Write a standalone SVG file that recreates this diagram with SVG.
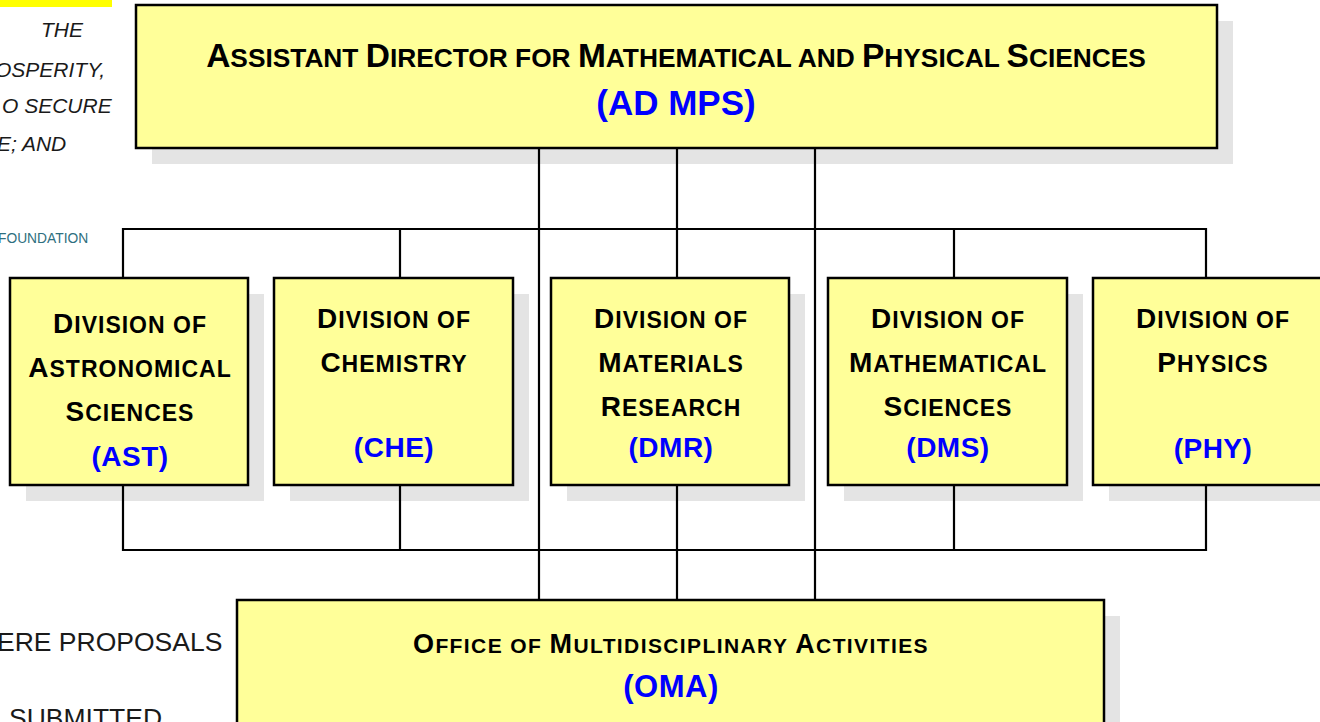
<svg xmlns="http://www.w3.org/2000/svg" width="1320" height="722" viewBox="0 0 1320 722">
<style>
.shadow{fill:#e4e4e4;stroke:none}
.box{fill:#ffff99;stroke:#000;stroke-width:2.5}
.ln{stroke:#000;stroke-width:2.2;fill:none}
.t{font-family:"Liberation Sans",Arial,sans-serif;font-weight:bold;fill:#000;text-anchor:middle}
.d{font-size:28px;letter-spacing:1px}
.d .s{font-size:23px}
.code{font-family:"Liberation Sans",Arial,sans-serif;font-weight:bold;fill:#0000ff;text-anchor:middle;font-size:28px;letter-spacing:0.5px}
.bg{font-family:"Liberation Sans",Arial,sans-serif;fill:#1a1a1a}
</style>
<rect width="1320" height="722" fill="#fff"/>
<g id="background-slide">
<rect x="0" y="0" width="112" height="7" fill="#ffff00"/>
<g class="bg" font-style="italic" font-size="21">
<text x="41" y="37">THE</text>
<text x="-5" y="77">OSPERITY,</text>
<text x="2" y="113">O SECURE</text>
<text x="-3" y="151">E; AND</text>
</g>
<text x="-2" y="243" class="bg" font-size="13.8" style="fill:#2f6f80">FOUNDATION</text>
<text x="-3" y="651" class="bg" font-size="26.5">ERE PROPOSALS</text>
<text x="9" y="727" class="bg" font-size="26.5">SUBMITTED</text>
</g>
<g id="shadows">
<rect class="shadow" x="152" y="21" width="1081" height="143"/>
<rect class="shadow" x="26" y="294" width="238" height="207"/>
<rect class="shadow" x="290" y="294" width="239" height="207"/>
<rect class="shadow" x="567" y="294" width="238" height="207"/>
<rect class="shadow" x="844" y="294" width="239" height="207"/>
<rect class="shadow" x="1109" y="294" width="238" height="207"/>
<rect class="shadow" x="253" y="616" width="867" height="120"/>
</g>
<g id="connectors">
<path class="ln" d="M539 148V600M677 148V278M815 148V600M677 485V600"/>
<path class="ln" d="M123 278V229H1206V278M400 229V278M954 229V278"/>
<path class="ln" d="M123 485V550H1206V485M400 485V550M954 485V550"/>
</g>
<g id="ad-mps">
<rect class="box" x="136" y="5" width="1081" height="143"/>
<text class="t" x="676" y="67" font-size="33.5">A<tspan font-size="26.3">SSISTANT </tspan>D<tspan font-size="26.3">IRECTOR FOR </tspan>M<tspan font-size="26.3">ATHEMATICAL AND </tspan>P<tspan font-size="26.3">HYSICAL </tspan>S<tspan font-size="26.3">CIENCES</tspan></text>
<text class="code" x="676" y="115" style="font-size:35px;letter-spacing:0">(AD MPS)</text>
</g>
<g id="ast">
<rect class="box" x="10" y="278" width="238" height="207"/>
<text class="t d" x="130" y="333">D<tspan class="s">IVISION OF</tspan></text>
<text class="t d" x="130" y="377">A<tspan class="s">STRONOMICAL</tspan></text>
<text class="t d" x="130" y="421">S<tspan class="s">CIENCES</tspan></text>
<text class="code" x="130" y="466">(AST)</text>
</g>
<g id="che">
<rect class="box" x="274" y="278" width="239" height="207"/>
<text class="t d" x="394" y="328">D<tspan class="s">IVISION OF</tspan></text>
<text class="t d" x="394" y="372">C<tspan class="s">HEMISTRY</tspan></text>
<text class="code" x="394" y="457">(CHE)</text>
</g>
<g id="dmr">
<rect class="box" x="551" y="278" width="238" height="207"/>
<text class="t d" x="671" y="328">D<tspan class="s">IVISION OF</tspan></text>
<text class="t d" x="671" y="372">M<tspan class="s">ATERIALS</tspan></text>
<text class="t d" x="671" y="416">R<tspan class="s">ESEARCH</tspan></text>
<text class="code" x="671" y="457">(DMR)</text>
</g>
<g id="dms">
<rect class="box" x="828" y="278" width="239" height="207"/>
<text class="t d" x="948" y="328">D<tspan class="s">IVISION OF</tspan></text>
<text class="t d" x="948" y="372">M<tspan class="s">ATHEMATICAL</tspan></text>
<text class="t d" x="948" y="416">S<tspan class="s">CIENCES</tspan></text>
<text class="code" x="948" y="457">(DMS)</text>
</g>
<g id="phy">
<rect class="box" x="1093" y="278" width="238" height="207"/>
<text class="t d" x="1213" y="328">D<tspan class="s">IVISION OF</tspan></text>
<text class="t d" x="1213" y="372">P<tspan class="s">HYSICS</tspan></text>
<text class="code" x="1213" y="458">(PHY)</text>
</g>
<g id="oma">
<rect class="box" x="237" y="600" width="867" height="130"/>
<text class="t" x="671" y="653" font-size="27" letter-spacing="1.4">O<tspan font-size="21">FFICE OF </tspan>M<tspan font-size="21">ULTIDISCIPLINARY </tspan>A<tspan font-size="21">CTIVITIES</tspan></text>
<text class="code" x="671" y="697" style="font-size:31px">(OMA)</text>
</g>
</svg>
